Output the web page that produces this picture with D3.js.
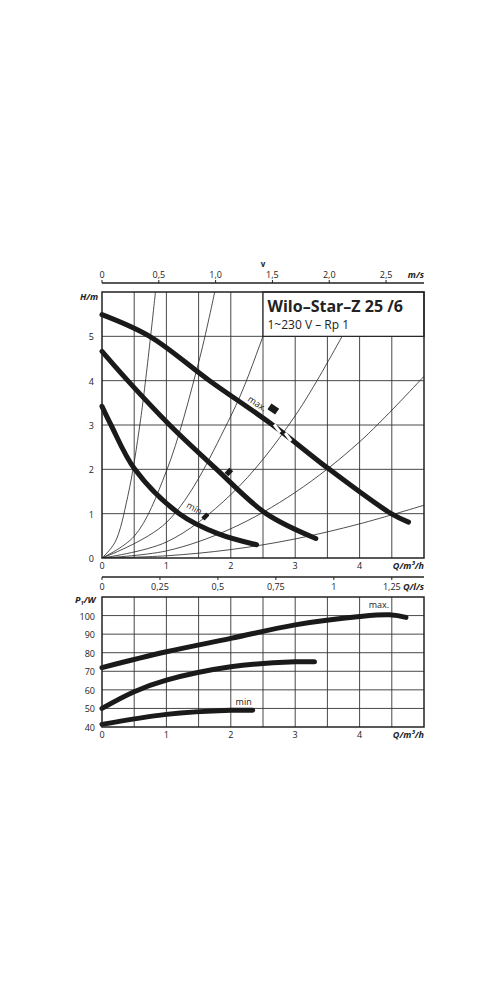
<!DOCTYPE html>
<html><head><meta charset="utf-8">
<script src="https://cdn.jsdelivr.net/npm/d3@7"></script>
<style>body{margin:0;background:#fff}text{font-family:"Open Sans",sans-serif;fill:#222}</style>
</head><body><svg id="c" width="500" height="1000"></svg>
<script>
// ---- data ----
const qTicks=[0,1,2,3,4];
const hTicks=[0,1,2,3,4,5];
const vTicks=[0,0.5,1.0,1.5,2.0,2.5];
const vLabels=["0","0,5","1,0","1,5","2,0","2,5"];
const lsTicks=[0,0.25,0.5,0.75,1,1.25];
const lsLabels=["0","0,25","0,5","0,75","1","1,25"];
const pTicks=[40,50,60,70,80,90,100];
const hMax=[[0,5.49],[0.74,5],[1.67,4],[2.65,3],[3.53,2],[4.49,1],[4.76,0.81]];
const hMid=[[0,4.66],[0.4,4],[1.05,3],[1.78,2],[2.55,1],[3.32,0.44]];
const hMin=[[0,3.42],[0.14,3],[0.51,2],[1.2,1],[1.8,0.55],[2.4,0.3]];
const sys=[
 [[0,0],[0.2,0.35],[0.4,1.39],[0.6,3.13],[0.83,6.0]],
 [[0,0],[0.5,0.49],[1,1.96],[1.5,4.41],[1.75,6.0]],
 [[0,0],[1,0.8],[2,3.2],[2.5,5.0],[2.74,6.0]],
 [[0,0],[1,0.36],[2,1.43],[3,3.21],[4.1,6.0]],
 [[0,0],[1,0.16],[2,0.66],[3,1.48],[4,2.62],[5,4.1]],
 [[0,0],[1,0.05],[2,0.19],[3,0.43],[4,0.77],[5,1.19]]];
const markers=[[[2.6,3.42],[2.72,3.3]],[[1.94,1.98],[2.0,1.9]],[[1.58,0.97],[1.63,0.9]]];
const gaps=[2.72,2.89];
const pMax=[[0,72],[1,80.5],[2,87.7],[3,95],[4,99.5],[4.46,100.4],[4.72,99]];
const pMid=[[0,50],[0.5,59],[1,65.2],[2,72.4],[3,75.1],[3.3,75.1]];
const pMin=[[0,41.4],[1,46.8],[2,49],[2.34,49]];

const svg=d3.select("#c");
const L=102,R=424;
const x=d3.scaleLinear().domain([0,5]).range([L,R]);
const yH=d3.scaleLinear().domain([0,6]).range([558,292]);
const vx=d3.scaleLinear().domain([0,2.834]).range([L,R]);
const yP=d3.scaleLinear().domain([40,110]).range([727,597]);
const lx=d3.scaleLinear().domain([0,5/3.6]).range([L,R]);
const grid="#333";

function gridLines(y,yd,hs){
  const g=svg.append("g");
  d3.range(0.5,5,0.5).forEach(q=>g.append("line").attr("x1",x(q)).attr("x2",x(q)).attr("y1",y(yd[0])).attr("y2",y(yd[1])).attr("stroke",grid).attr("stroke-width",0.9));
  hs.forEach(h=>g.append("line").attr("x1",L).attr("x2",R).attr("y1",y(h)).attr("y2",y(h)).attr("stroke",grid).attr("stroke-width",0.9));
}
svg.append("defs").append("clipPath").attr("id","cp").append("rect").attr("x",L).attr("y",292).attr("width",R-L).attr("height",266);
gridLines(yH,[0,6],[1,2,3,4,5]);
const lineH=d3.line().x(d=>x(d[0])).y(d=>yH(d[1])).curve(d3.curveCatmullRom);
const sg=svg.append("g").attr("clip-path","url(#cp)");
sys.forEach(s=>sg.append("path").attr("d",lineH(s)).attr("fill","none").attr("stroke","#222").attr("stroke-width",0.8));
svg.append("rect").attr("x",x(2.5)).attr("y",292).attr("width",R-x(2.5)).attr("height",yH(5)-292).attr("fill","#fff").attr("stroke","#222").attr("stroke-width",1.2);
[hMax,hMid,hMin].forEach(s=>svg.append("path").attr("d",lineH(s)).attr("fill","none").attr("stroke","#1a1a1a").attr("stroke-width",5).attr("stroke-linecap","round"));
gaps.forEach(q=>{const h=3-(q-2.65)*1.13;svg.append("line").attr("x1",x(q)-3).attr("x2",x(q)+3).attr("y1",yH(h)-4).attr("y2",yH(h)+4).attr("stroke","#fff").attr("stroke-width",3);});
markers.forEach(m=>svg.append("line").attr("x1",x(m[0][0])).attr("y1",yH(m[0][1])).attr("x2",x(m[1][0])).attr("y2",yH(m[1][1])).attr("stroke","#1a1a1a").attr("stroke-width",7));
svg.append("rect").attr("x",L).attr("y",292).attr("width",R-L).attr("height",266).attr("fill","none").attr("stroke","#222").attr("stroke-width",1.5);
svg.append("text").attr("x",x(2.57)).attr("y",312).attr("font-size",16).attr("font-weight","bold").text("Wilo–Star–Z 25 /6");
svg.append("text").attr("x",x(2.57)).attr("y",329).attr("font-size",12).text("1~230 V – Rp 1");
svg.append("text").attr("transform",`translate(${x(2.25)},${yH(3.55)}) rotate(33)`).attr("font-size",9).text("max.");
svg.append("text").attr("transform",`translate(${x(1.3)},${yH(1.15)}) rotate(30)`).attr("font-size",9).text("min");
hTicks.forEach(h=>svg.append("text").attr("x",94).attr("y",yH(h)+4).attr("text-anchor","end").attr("font-size",9).text(h));
qTicks.forEach(q=>svg.append("text").attr("x",x(q)).attr("y",569).attr("text-anchor","middle").attr("font-size",9).text(q));
svg.append("text").attr("x",R).attr("y",569).attr("text-anchor","end").attr("font-size",9).attr("font-weight","bold").attr("font-style","italic").text("Q/m³/h");
svg.append("text").attr("x",80).attr("y",300).attr("font-size",9).attr("font-weight","bold").attr("font-style","italic").text("H/m");
svg.append("line").attr("x1",L).attr("x2",R).attr("y1",283).attr("y2",283).attr("stroke","#222").attr("stroke-width",1.5);
vTicks.forEach((v,i)=>{svg.append("line").attr("x1",vx(v)).attr("x2",vx(v)).attr("y1",280).attr("y2",283).attr("stroke","#222");svg.append("text").attr("x",vx(v)).attr("y",278).attr("text-anchor","middle").attr("font-size",9).text(vLabels[i]);});
svg.append("text").attr("x",R).attr("y",278).attr("text-anchor","end").attr("font-size",9).attr("font-weight","bold").attr("font-style","italic").text("m/s");
svg.append("text").attr("x",263).attr("y",267).attr("text-anchor","middle").attr("font-size",8).attr("font-weight","bold").text("v");

gridLines(yP,[40,110],[50,60,70,80,90,100]);
const lineP=d3.line().x(d=>x(d[0])).y(d=>yP(d[1])).curve(d3.curveCatmullRom);
[pMax,pMid,pMin].forEach(s=>svg.append("path").attr("d",lineP(s)).attr("fill","none").attr("stroke","#1a1a1a").attr("stroke-width",5).attr("stroke-linecap","round"));
svg.append("rect").attr("x",L).attr("y",597).attr("width",R-L).attr("height",130).attr("fill","none").attr("stroke","#222").attr("stroke-width",1.5);
svg.append("line").attr("x1",L).attr("x2",R).attr("y1",577).attr("y2",577).attr("stroke","#222").attr("stroke-width",1.5);
lsTicks.forEach((v,i)=>{svg.append("line").attr("x1",lx(v)).attr("x2",lx(v)).attr("y1",577).attr("y2",580).attr("stroke","#222");svg.append("text").attr("x",lx(v)).attr("y",590).attr("text-anchor","middle").attr("font-size",9).text(lsLabels[i]);});
svg.append("text").attr("x",R).attr("y",590).attr("text-anchor","end").attr("font-size",9).attr("font-weight","bold").attr("font-style","italic").text("Q/l/s");
pTicks.forEach(p=>svg.append("text").attr("x",95).attr("y",yP(p)+4).attr("text-anchor","end").attr("font-size",9).text(p));
svg.append("text").attr("x",75).attr("y",603).attr("font-size",9).attr("font-weight","bold").attr("font-style","italic").html('P<tspan font-size="6" dy="2">1</tspan><tspan dy="-2">/W</tspan>');
qTicks.forEach(q=>svg.append("text").attr("x",x(q)).attr("y",738).attr("text-anchor","middle").attr("font-size",9).text(q));
svg.append("text").attr("x",R).attr("y",738).attr("text-anchor","end").attr("font-size",9).attr("font-weight","bold").attr("font-style","italic").text("Q/m³/h");
svg.append("text").attr("x",x(4.3)).attr("y",yP(104)).attr("text-anchor","middle").attr("font-size",9).text("max.");
svg.append("text").attr("x",x(2.2)).attr("y",yP(52)).attr("text-anchor","middle").attr("font-size",9).text("min");
</script></body></html>
